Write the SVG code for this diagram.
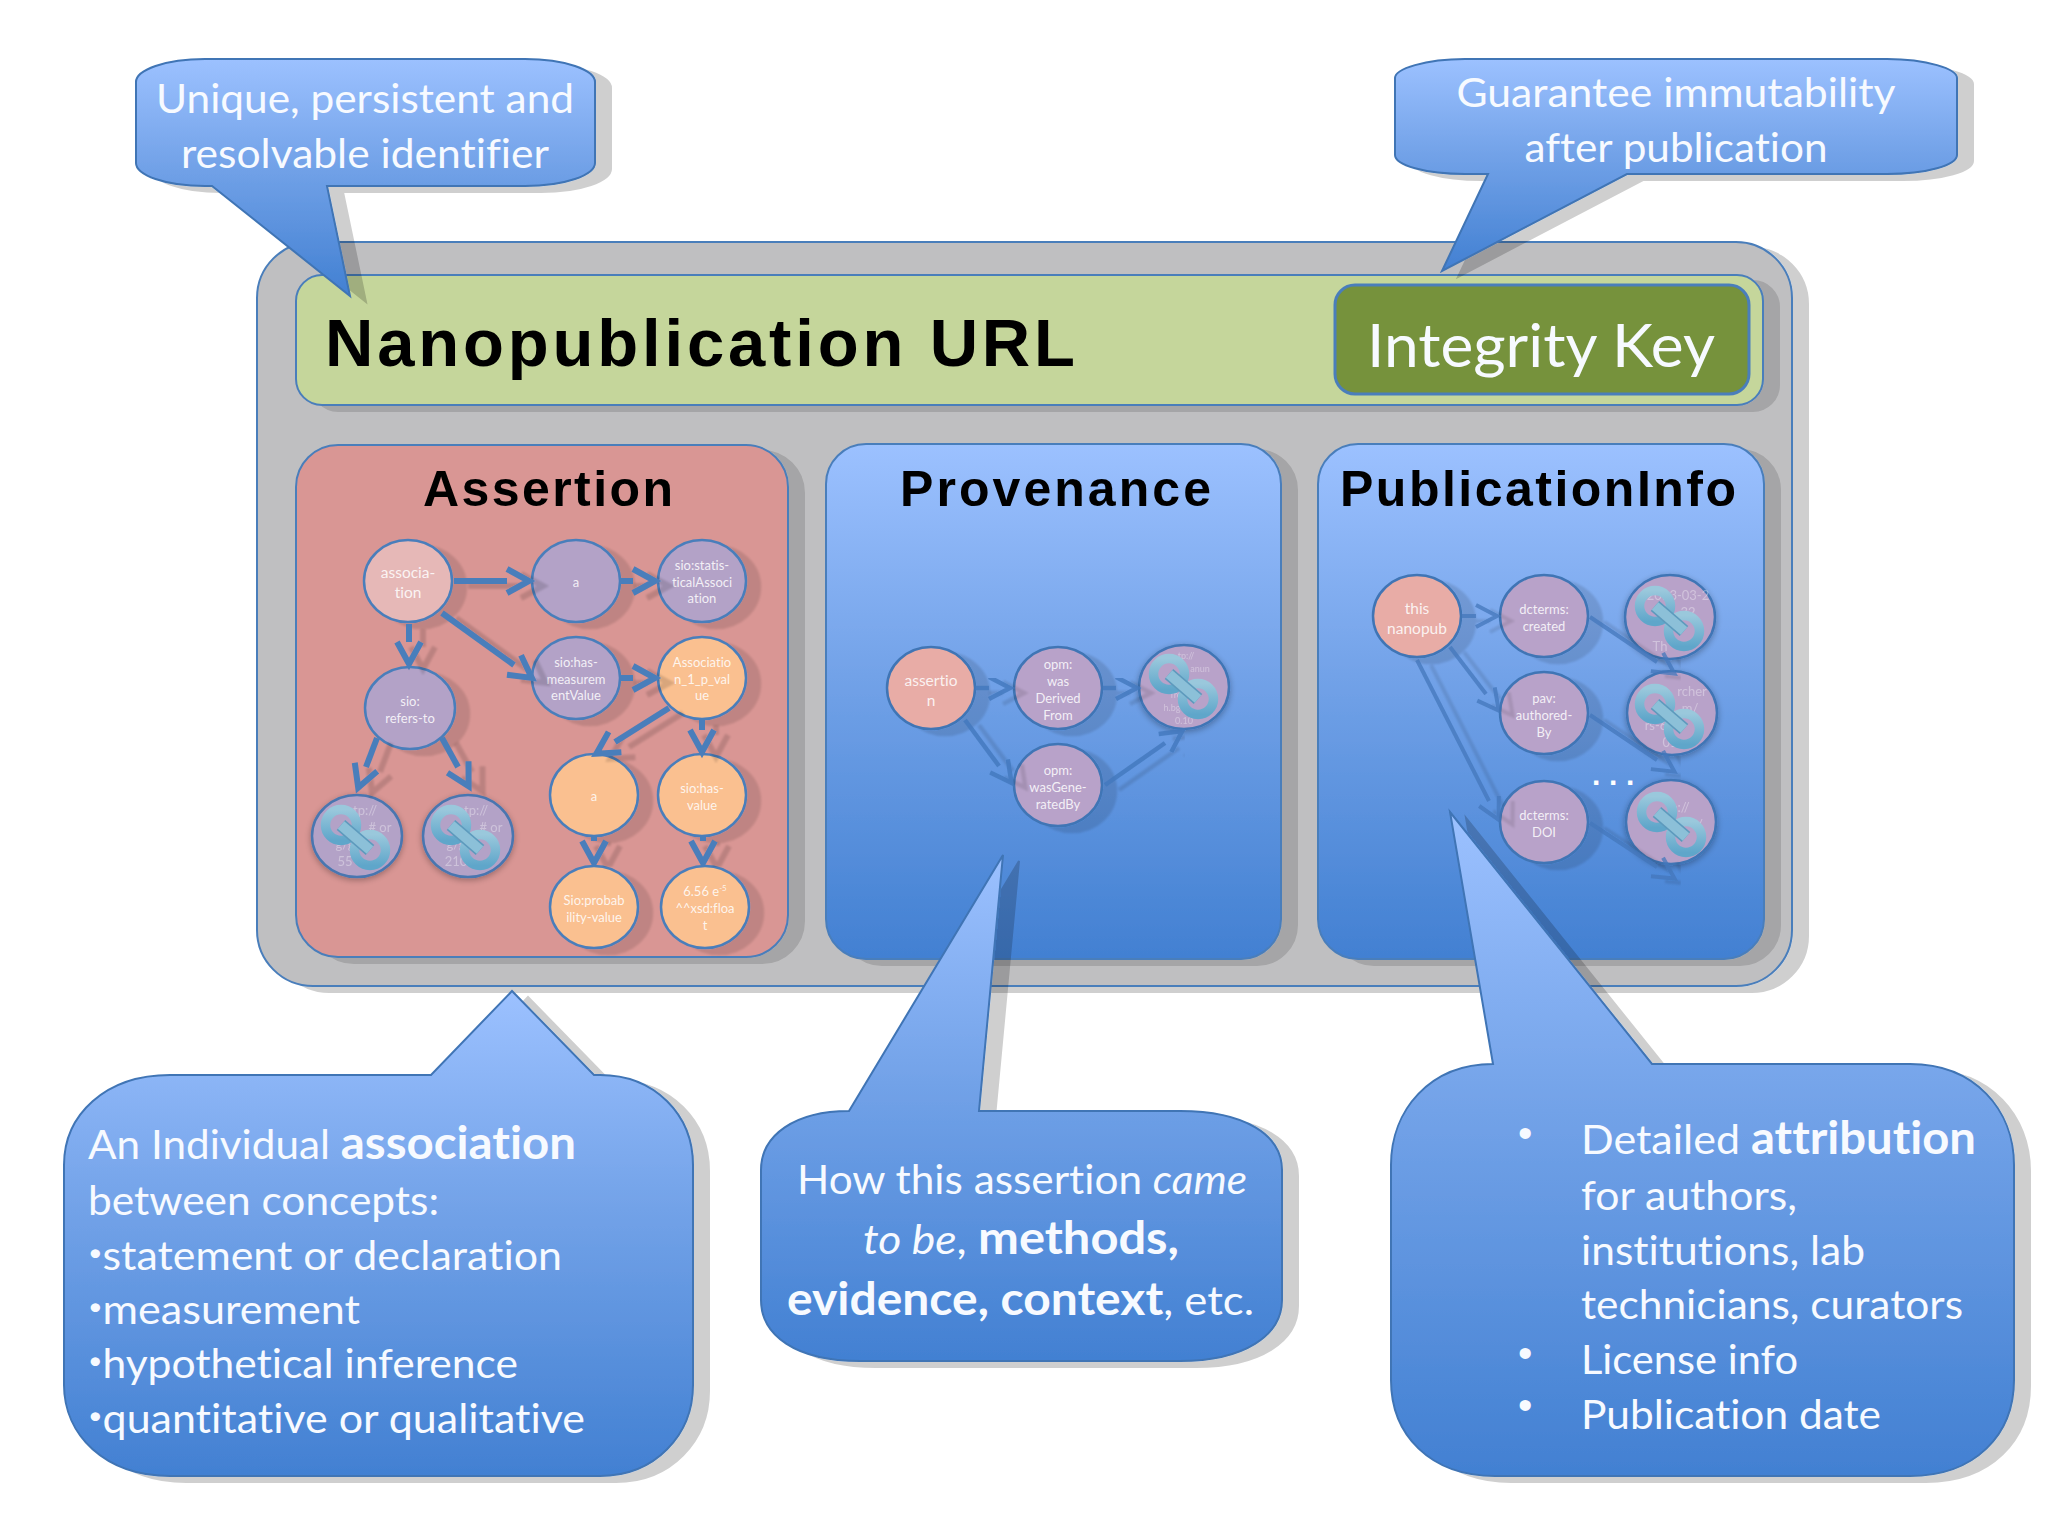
<svg xmlns="http://www.w3.org/2000/svg" width="2048" height="1536" viewBox="0 0 2048 1536">
<style>
text{font-variant-ligatures:none}
.c{font-family:Lato,"Open Sans","Liberation Sans",sans-serif;fill:#f7faff}
.m{text-anchor:middle}
.call{font-size:41px}
.t{font-family:"Liberation Sans",Arial,sans-serif;font-weight:700;fill:#000}
.n{font-family:Lato,"Open Sans",sans-serif;fill:#fff;fill-opacity:.85;font-size:13px;text-anchor:middle}
.n2{font-size:15.5px}
.f{opacity:.4}
.pur{fill:#b3a2c7;stroke:#4a7ebb;stroke-width:2.5}
.ora{fill:#fac090;stroke:#4a7ebb;stroke-width:2.5}
.pnk{fill:#e6b8b7;stroke:#4a7ebb;stroke-width:2.5}
.pk2{fill:#e8aca6;stroke:#3f75b5;stroke-width:2.5}
.pu2{fill:#b8a2c9;stroke:#3f75b5;stroke-width:2.5}
.lk{fill:#b3a2c7;stroke:#4a76b0;stroke-width:2.5}
.box{stroke:#4a7ebb;stroke-width:2}
.cb{fill:url(#blue);stroke:#3f74b5;stroke-width:2}
.arr{fill:none;stroke:#4a7ebb;stroke-width:6;marker-end:url(#chev)}
.arr2{fill:none;stroke:#4278bd;stroke-width:4.5;stroke-opacity:.8;marker-end:url(#chev2)}
.arr3{fill:none;stroke:#4377bb;stroke-width:4;stroke-opacity:.75;marker-end:url(#chev3)}
.ring{fill:none;stroke:url(#ringc);stroke-width:9.5}
.bar0{stroke:#5d9abd;stroke-width:13}
.bar{stroke:#8cc0d8;stroke-width:10}
</style>
<defs>
<linearGradient id="blue" x1="0" y1="0" x2="0" y2="1"><stop offset="0" stop-color="#9cc1ff"/><stop offset=".45" stop-color="#72a2e8"/><stop offset="1" stop-color="#4280d2"/></linearGradient>
<linearGradient id="ringc" x1="0" y1="0" x2="0" y2="1"><stop offset="0" stop-color="#9ac8dc"/><stop offset="1" stop-color="#5fa6ca"/></linearGradient>
<filter id="sh" x="-15%" y="-15%" width="130%" height="130%"><feOffset in="SourceAlpha" dx="16" dy="6"/><feGaussianBlur stdDeviation=".7"/><feComponentTransfer result="o"><feFuncA type="linear" slope=".19"/></feComponentTransfer><feMerge><feMergeNode in="o"/><feMergeNode in="SourceGraphic"/></feMerge></filter>
<filter id="ps" x="-15%" y="-15%" width="130%" height="130%"><feOffset in="SourceAlpha" dx="16" dy="6"/><feGaussianBlur stdDeviation=".7"/><feComponentTransfer result="o"><feFuncA type="linear" slope=".14"/></feComponentTransfer><feMerge><feMergeNode in="o"/><feMergeNode in="SourceGraphic"/></feMerge></filter>
<filter id="ns" x="-40%" y="-40%" width="180%" height="180%"><feOffset in="SourceAlpha" dx="14" dy="6"/><feGaussianBlur stdDeviation="1"/><feComponentTransfer result="o"><feFuncA type="linear" slope=".12"/></feComponentTransfer><feMerge><feMergeNode in="o"/><feMergeNode in="SourceGraphic"/></feMerge></filter>
<filter id="as" x="-10%" y="-10%" width="120%" height="120%"><feOffset in="SourceAlpha" dx="14" dy="5"/><feGaussianBlur stdDeviation=".8"/><feComponentTransfer result="o"><feFuncA type="linear" slope=".14"/></feComponentTransfer><feMerge><feMergeNode in="o"/><feMergeNode in="SourceGraphic"/></feMerge></filter>
<filter id="gl" x="-30%" y="-30%" width="160%" height="160%"><feGaussianBlur in="SourceAlpha" stdDeviation="3"/><feOffset dy="2"/><feComponentTransfer result="o"><feFuncA type="linear" slope=".3"/></feComponentTransfer><feMerge><feMergeNode in="o"/><feMergeNode in="SourceGraphic"/></feMerge></filter>
<marker id="chev" markerUnits="userSpaceOnUse" markerWidth="40" markerHeight="40" refX="10" refY="20" orient="auto" overflow="visible"><path d="M10,8 L32,20 L10,32" fill="none" stroke="#4a7ebb" stroke-width="6"/></marker>
<marker id="chev2" markerUnits="userSpaceOnUse" markerWidth="40" markerHeight="40" refX="10" refY="20" orient="auto" overflow="visible"><path d="M10,9 L31,20 L10,31" fill="none" stroke="#4278bd" stroke-opacity=".8" stroke-width="4.5"/></marker>
<marker id="chev3" markerUnits="userSpaceOnUse" markerWidth="40" markerHeight="40" refX="10" refY="20" orient="auto" overflow="visible"><path d="M10,9 L31,20 L10,31" fill="none" stroke="#4377bb" stroke-opacity=".75" stroke-width="4"/></marker>
<g id="link"><circle cx="-15" cy="-12" r="15.5" class="ring"/><circle cx="14" cy="13" r="15.5" class="ring"/><line x1="-15" y1="-12" x2="14" y2="13" class="bar0"/><line x1="-15" y1="-12" x2="14" y2="13" class="bar"/></g>
</defs>
<rect width="2048" height="1536" fill="#fff"/>

<rect id="frame" x="257" y="242" width="1535" height="744" rx="56" fill="#bfbfc1" class="box" filter="url(#sh)"/>

<g id="url-bar">
<rect x="296" y="275" width="1467" height="130" rx="26" fill="#c5d69b" class="box" filter="url(#ps)"/>
<text class="t" x="325" y="366" font-size="67" textLength="750" lengthAdjust="spacing">Nanopublication URL</text>
</g>
<g id="integrity-key">
<rect x="1335" y="285" width="414" height="109" rx="20" fill="#76923c" stroke="#4a7ebb" stroke-width="3"/>
<text class="c" x="1367" y="367" font-size="60" fill="#fff" textLength="348" lengthAdjust="spacingAndGlyphs">Integrity Key</text>
</g>

<g id="assertion-panel">
<rect x="296" y="445" width="492" height="512" rx="42" fill="#d99694" class="box" filter="url(#ps)"/>
<text class="t" x="423" y="506" font-size="50" textLength="250" lengthAdjust="spacing">Assertion</text>
</g>
<g id="provenance-panel">
<rect x="826" y="444" width="455" height="515" rx="40" fill="url(#blue)" class="box" filter="url(#ps)"/>
<text class="t" x="900" y="506" font-size="50" textLength="311" lengthAdjust="spacing">Provenance</text>
</g>
<g id="publication-panel">
<rect x="1318" y="444" width="446" height="515" rx="40" fill="url(#blue)" class="box" filter="url(#ps)"/>
<text class="t" x="1340" y="506" font-size="50" textLength="396" lengthAdjust="spacing">PublicationInfo</text>
</g>

<g id="n-association"><ellipse cx="408" cy="581" rx="44" ry="41" class="pnk" filter="url(#ns)"/><text class="n n2" x="408" y="578">associa-<tspan x="408" dy="20">tion</tspan></text></g>
<g id="n-a1"><ellipse cx="576" cy="581" rx="44" ry="41" class="pur" filter="url(#ns)"/><text class="n" x="576" y="587">a</text></g>
<g id="n-statistical"><ellipse cx="702" cy="581" rx="44" ry="41" class="pur" filter="url(#ns)"/><text class="n" x="702" y="570">sio:statis-<tspan x="702" dy="16.7">ticalAssoci</tspan><tspan x="702" dy="16.7">ation</tspan></text></g>
<g id="n-measurement"><ellipse cx="576" cy="678" rx="44" ry="41" class="pur" filter="url(#ns)"/><text class="n" x="576" y="667">sio:has-<tspan x="576" dy="16.7">measurem</tspan><tspan x="576" dy="16.7">entValue</tspan></text></g>
<g id="n-pvalue"><ellipse cx="702" cy="678" rx="44" ry="41" class="ora" filter="url(#ns)"/><text class="n" x="702" y="667">Associatio<tspan x="702" dy="16.7">n_1_p_val</tspan><tspan x="702" dy="16.7">ue</tspan></text></g>
<g id="n-refers"><ellipse cx="410" cy="708" rx="45" ry="41" class="pur" filter="url(#ns)"/><text class="n" x="410" y="706">sio:<tspan x="410" dy="16.7">refers-to</tspan></text></g>
<g id="n-link1"><ellipse cx="357" cy="836" rx="45" ry="41" class="lk" filter="url(#gl)"/><text class="n f" x="365" y="815">tp://<tspan x="380" dy="17"># or</tspan><tspan x="345" dy="17">g/g</tspan><tspan x="345" dy="17">55</tspan></text><use href="#link" x="356" y="837"/></g>
<g id="n-link2"><ellipse cx="468" cy="836" rx="45" ry="41" class="lk" filter="url(#gl)"/><text class="n f" x="476" y="815">tp://<tspan x="491" dy="17"># or</tspan><tspan x="456" dy="17">g/g</tspan><tspan x="456" dy="17">210</tspan></text><use href="#link" x="466" y="837"/></g>
<g id="n-a2"><ellipse cx="594" cy="795" rx="44" ry="41" class="ora" filter="url(#ns)"/><text class="n" x="594" y="801">a</text></g>
<g id="n-hasvalue"><ellipse cx="702" cy="795" rx="44" ry="41" class="ora" filter="url(#ns)"/><text class="n" x="702" y="793">sio:has-<tspan x="702" dy="16.7">value</tspan></text></g>
<g id="n-probability"><ellipse cx="594" cy="907" rx="44" ry="41" class="ora" filter="url(#ns)"/><text class="n" x="594" y="905">Sio:probab<tspan x="594" dy="16.7">ility-value</tspan></text></g>
<g id="n-float"><ellipse cx="705" cy="907" rx="44" ry="41" class="ora" filter="url(#ns)"/><text class="n" x="705" y="896">6.56 e<tspan dy="-5" font-size="8">-5</tspan><tspan x="705" dy="22">^^xsd:floa</tspan><tspan x="705" dy="16.7">t</tspan></text></g>

<g id="n-assertion"><ellipse cx="931" cy="688" rx="44" ry="41" class="pk2" filter="url(#ns)"/><text class="n n2" x="931" y="686">assertio<tspan x="931" dy="20">n</tspan></text></g>
<g id="n-derived"><ellipse cx="1058" cy="688" rx="44" ry="41" class="pu2" filter="url(#ns)"/><text class="n" x="1058" y="669">opm:<tspan x="1058" dy="17">was</tspan><tspan x="1058" dy="17">Derived</tspan><tspan x="1058" dy="17">From</tspan></text></g>
<g id="n-generated"><ellipse cx="1058" cy="785" rx="44" ry="41" class="pu2" filter="url(#ns)"/><text class="n" x="1058" y="775">opm:<tspan x="1058" dy="17">wasGene-</tspan><tspan x="1058" dy="17">ratedBy</tspan></text></g>
<g id="n-link3"><ellipse cx="1184" cy="687" rx="45" ry="42" class="pu2" filter="url(#gl)"/><text class="n f" x="1186" y="659" style="font-size:9px">tp://<tspan x="1200" dy="13">anun</tspan><tspan x="1180" dy="26">from</tspan><tspan x="1172" dy="13">h.bg</tspan><tspan x="1184" dy="13">0.10</tspan></text><use href="#link" x="1184" y="686"/></g>

<g id="n-nanopub"><ellipse cx="1417" cy="616" rx="44" ry="41" class="pk2" filter="url(#ns)"/><text class="n n2" x="1417" y="614">this<tspan x="1417" dy="20">nanopub</tspan></text></g>
<g id="n-created"><ellipse cx="1544" cy="616" rx="44" ry="41" class="pu2" filter="url(#ns)"/><text class="n" x="1544" y="614">dcterms:<tspan x="1544" dy="17">created</tspan></text></g>
<g id="n-authored"><ellipse cx="1544" cy="713" rx="44" ry="41" class="pu2" filter="url(#ns)"/><text class="n" x="1544" y="703">pav:<tspan x="1544" dy="17">authored-</tspan><tspan x="1544" dy="17">By</tspan></text></g>
<g id="n-doi"><ellipse cx="1544" cy="822" rx="44" ry="41" class="pu2" filter="url(#ns)"/><text class="n" x="1544" y="820">dcterms:<tspan x="1544" dy="17">DOI</tspan></text></g>
<g id="n-link4"><ellipse cx="1670" cy="617" rx="45" ry="42" class="pu2" filter="url(#gl)"/><text class="n f" x="1678" y="600">2013-03-2<tspan x="1688" dy="17">32</tspan><tspan x="1660" dy="34">Th</tspan></text><use href="#link" x="1670" y="618"/></g>
<g id="n-link5"><ellipse cx="1672" cy="713" rx="45" ry="42" class="pu2" filter="url(#gl)"/><text class="n f" x="1692" y="696">rcher<tspan x="1690" dy="17">m/</tspan><tspan x="1656" dy="17">rs-6</tspan><tspan x="1670" dy="17">01</tspan></text><use href="#link" x="1670" y="716"/></g>
<g id="n-link6"><ellipse cx="1671" cy="822" rx="45" ry="42" class="pu2" filter="url(#gl)"/><text class="n f" x="1680" y="812">p://<tspan x="1700" dy="17">/</tspan></text><use href="#link" x="1672" y="824"/></g>
<text id="ellipsis" x="1592" y="785" font-family="Liberation Sans, sans-serif" font-weight="700" font-size="30" letter-spacing="8.7" fill="#fff">...</text>

<g id="connectors">
<g filter="url(#as)">
<path class="arr" d="M454,581H507"/><path class="arr" d="M620,581H633"/><path class="arr" d="M620,678H633"/>
<path class="arr" d="M442,613L514,665"/><path class="arr" d="M409,624V642"/>
<path class="arr" d="M377,738L366,767"/><path class="arr" d="M442,738L458,767"/>
<path class="arr" d="M669,708L615,742"/><path class="arr" d="M702,720V730"/>
<path class="arr" d="M594,837V841"/><path class="arr" d="M703,837V841"/>
</g>
<g filter="url(#as)">
<path class="arr2" d="M975,688H989"/><path class="arr2" d="M1103,688H1116"/>
<path class="arr2" d="M965,720L999,766"/><path class="arr2" d="M1105,785L1165,743"/>
</g>
<g filter="url(#as)">
<path class="arr3" d="M1462,616H1476"/><path class="arr3" d="M1450,647L1486,694"/>
<path class="arr3" d="M1417,660L1489,801"/><path class="arr3" d="M1590,617L1657,662"/>
<path class="arr3" d="M1590,715L1657,760"/><path class="arr3" d="M1590,823L1657,867"/>
</g>
</g>

<g id="callout-identifier">
<path class="cb" filter="url(#sh)" d="M205,59H525C565,59 595,70 595,82V163C595,175 565,186 525,186H327L350,296L212,186H205C165,186 136,175 136,163V82C136,70 165,59 205,59Z"/>
<text class="c call m" x="365" y="113" textLength="418" lengthAdjust="spacingAndGlyphs">Unique, persistent and</text>
<text class="c call m" x="365" y="168" textLength="368" lengthAdjust="spacingAndGlyphs">resolvable identifier</text>
</g>
<g id="callout-immutability">
<path class="cb" filter="url(#sh)" d="M1465,59H1887C1927,59 1957,69 1957,78V155C1957,165 1927,174 1887,174H1627L1442,271L1488,174H1465C1425,174 1395,165 1395,155V78C1395,69 1425,59 1465,59Z"/>
<text class="c call m" x="1676" y="107" textLength="439" lengthAdjust="spacingAndGlyphs">Guarantee immutability</text>
<text class="c call m" x="1676" y="162" textLength="303" lengthAdjust="spacingAndGlyphs">after publication</text>
</g>
<g id="callout-association">
<path class="cb" filter="url(#sh)" d="M170,1075H431L512,991L594,1075H600C655,1075 693,1115 693,1165V1385C693,1435 655,1476 600,1476H170C105,1476 64,1435 64,1385V1165C64,1115 105,1075 170,1075Z"/>
<text class="c call" x="88" y="1159" textLength="488" lengthAdjust="spacingAndGlyphs">An Individual <tspan font-weight="700" font-size="46">association</tspan></text>
<text class="c call" x="88" y="1215" textLength="351" lengthAdjust="spacingAndGlyphs">between concepts:</text>
<text class="c call" x="88" y="1270" textLength="474" lengthAdjust="spacingAndGlyphs"><tspan font-size="24" dy="-9">•</tspan><tspan dy="9">statement or declaration</tspan></text>
<text class="c call" x="88" y="1324" textLength="272" lengthAdjust="spacingAndGlyphs"><tspan font-size="24" dy="-9">•</tspan><tspan dy="9">measurement</tspan></text>
<text class="c call" x="88" y="1378" textLength="430" lengthAdjust="spacingAndGlyphs"><tspan font-size="24" dy="-9">•</tspan><tspan dy="9">hypothetical inference</tspan></text>
<text class="c call" x="88" y="1433" textLength="497" lengthAdjust="spacingAndGlyphs"><tspan font-size="24" dy="-9">•</tspan><tspan dy="9">quantitative or qualitative</tspan></text>
</g>
<g id="callout-provenance">
<path class="cb" filter="url(#sh)" d="M849,1111L1003,855L979,1111H1180C1245,1111 1282,1135 1282,1170V1300C1282,1335 1245,1361 1180,1361H860C795,1361 761,1335 761,1300V1170C761,1135 795,1111 849,1111Z"/>
<text class="c call" x="797" y="1194" textLength="450" lengthAdjust="spacingAndGlyphs">How this assertion <tspan font-style="italic">came</tspan></text>
<text class="c call" x="863" y="1254" textLength="316" lengthAdjust="spacingAndGlyphs"><tspan font-style="italic">to be</tspan>, <tspan font-weight="700" font-size="45">methods,</tspan></text>
<text class="c call" x="787" y="1315" textLength="467" lengthAdjust="spacingAndGlyphs"><tspan font-weight="700" font-size="45">evidence, context</tspan>, etc.</text>
</g>
<g id="callout-publication">
<path class="cb" filter="url(#sh)" d="M1493,1064L1450,812L1652,1064H1910C1975,1064 2014,1110 2014,1165V1380C2014,1435 1975,1476 1910,1476H1495C1430,1476 1391,1435 1391,1380V1165C1391,1110 1430,1064 1493,1064Z"/>
<text class="c call" x="1518" y="1147" style="font-family:'Liberation Sans',sans-serif">•</text>
<text class="c call" x="1581" y="1154" textLength="395" lengthAdjust="spacingAndGlyphs">Detailed <tspan font-weight="700" font-size="45">attribution</tspan></text>
<text class="c call" x="1581" y="1210" textLength="216" lengthAdjust="spacingAndGlyphs">for authors,</text>
<text class="c call" x="1581" y="1265" textLength="284" lengthAdjust="spacingAndGlyphs">institutions, lab</text>
<text class="c call" x="1581" y="1319" textLength="382" lengthAdjust="spacingAndGlyphs">technicians, curators</text>
<text class="c call" x="1518" y="1367" style="font-family:'Liberation Sans',sans-serif">•</text>
<text class="c call" x="1581" y="1374" textLength="217" lengthAdjust="spacingAndGlyphs">License info</text>
<text class="c call" x="1518" y="1419" style="font-family:'Liberation Sans',sans-serif">•</text>
<text class="c call" x="1581" y="1429" textLength="300" lengthAdjust="spacingAndGlyphs">Publication date</text>
</g>
</svg>
